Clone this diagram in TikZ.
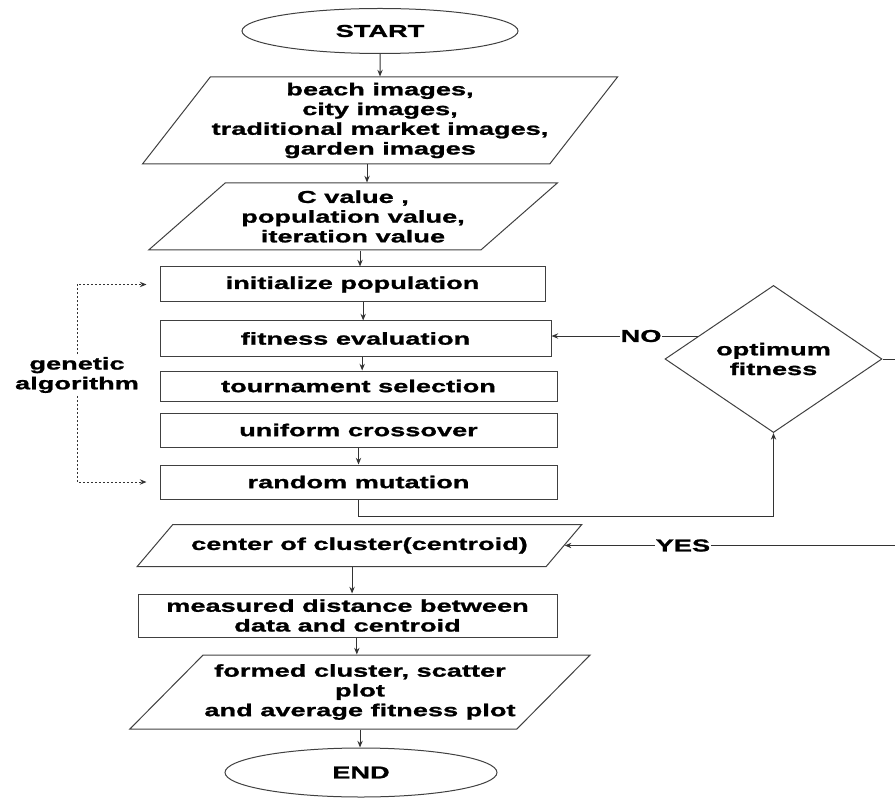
\documentclass[tikz,border=0pt]{standalone}
\usepackage{fontspec}
\setmainfont[FakeStretch=1.58, BoldFeatures={FakeBold=1.2}]{Liberation Sans}
\usetikzlibrary{arrows.meta}
\usetikzlibrary{shapes.geometric}

\tikzset{
  term/.style={ellipse, draw={rgb, 255:red, 64; green, 64; blue, 64}, line width=0.75pt, inner sep=0pt},
  io/.style={trapezium, trapezium stretches=true, draw={rgb, 255:red, 64; green, 64; blue, 64}, line width=0.75pt, inner sep=1pt, align=center},
  proc/.style={rectangle, draw={rgb, 255:red, 64; green, 64; blue, 64}, line width=0.75pt, inner sep=0pt, align=center},
  decide/.style={diamond, draw={rgb, 255:red, 64; green, 64; blue, 64}, line width=0.75pt, inner sep=0pt, align=center},
  flow/.style={draw={rgb, 255:red, 51; green, 51; blue, 51}, line width=0.75pt, -{Stealth[length=5pt,width=4pt]}},
  gaflow/.style={draw={rgb, 255:red, 51; green, 51; blue, 51}, line width=0.75pt, dash pattern={on 1.5pt off 1.5pt}, -{Stealth[length=5pt,width=4pt]}},
  lbl/.style={fill=white, inner sep=0.5pt}
}

\begin{document}
\begin{tikzpicture}[x=0.75pt,y=0.75pt,yscale=-1,xscale=1, font=\bfseries\fontsize{12.9}{14.8}\selectfont]
\useasboundingbox (0,0) rectangle (895,798);

%Terminator [START]
\node [term, minimum width=207pt, minimum height=33.75pt] (start) at (380,31) {START};
%Data [images]
\node [io, minimum width=319.5pt, minimum height=65.25pt, trapezium left angle=49, trapezium right angle=131] (imgs) at (380,120.5) {beach images,\\ city images,\\traditional market images,\\ garden images};
%Data [parameters]
\node [io, minimum width=307.5pt, minimum height=50.25pt, trapezium left angle=39, trapezium right angle=141] (vals) at (353,216.5) {C value ,\\ population value,\\iteration value};

%Process boxes of the genetic algorithm
\node [proc, minimum width=288.75pt, minimum height=26.25pt] (init) at (352.5,284.5) {initialize population};
\node [proc, minimum width=293.25pt, minimum height=26.25pt] (fit) at (355.5,338.5) {fitness evaluation};
\node [proc, minimum width=297.75pt, minimum height=22.5pt] (tour) at (358.5,386) {tournament selection};
\node [proc, minimum width=297.75pt, minimum height=25.5pt] (cross) at (358.5,430) {uniform crossover};
\node [proc, minimum width=297.75pt, minimum height=25.5pt] (mut) at (358.5,482) {random mutation};

%Decision
\node [decide, minimum width=162.75pt, minimum height=85.5pt] (opt) at (773.5,359) {optimum\\fitness};

%Data [centroid]
\node [io, minimum width=333.75pt, minimum height=31.5pt, trapezium left angle=30, trapezium right angle=150] (cent) at (359.5,545.5) {center of cluster(centroid)};
\node [proc, minimum width=314.25pt, minimum height=32.25pt] (meas) at (347.5,615.5) {measured distance between\\data and centroid};
\node [io, minimum width=345pt, minimum height=55.5pt, trapezium left angle=38.5, trapezium right angle=141.5] (formed) at (360,692) {formed cluster, scatter\\plot\\and average fitness plot};
%Terminator [END]
\node [term, minimum width=204pt, minimum height=36.75pt] (end) at (361,772.5) {END};

% Text Node
\node [align=center, inner sep=2pt] (ga) at (77,375) {genetic\\algorithm};

%Straight Lines
\draw [flow] (start) -- (imgs);
\draw [flow] ([xshift=-9.75pt]imgs.south) -- ([xshift=-9.75pt]imgs.south |- vals.north);
\draw [flow] ([xshift=5.25pt]vals.south) -- ([xshift=5.25pt]vals.south |- init.north);
\draw [flow] ([xshift=8pt]init.south) -- ([xshift=8pt]init.south |- fit.north);
\draw [flow] ([xshift=5pt]fit.south) -- ([xshift=5pt]fit.south |- tour.north);
\draw [flow] (cross) -- (mut);
\draw [flow] (mut.south) -- ++(0,17) -| (opt.south);
\draw [flow] (opt.163.6) -- node [lbl, pos=0.39] {NO} (opt.163.6 -| fit.east);
\draw [flow] (opt.east) -- ++(30,0) |- node [lbl, pos=0.83] {YES} (cent.east);
\draw [flow] ([xshift=-5.6pt]cent.south) -- ([xshift=-5.6pt]cent.south |- meas.north);
\draw [flow] ([xshift=7pt]meas.south) -- ([xshift=7pt]meas.south |- formed.north);
\draw [flow] (formed.south) -- (formed.south |- end.north);

%Dotted Lines
\draw [gaflow] (ga.north) |- ([xshift=-9.75pt]init.west);
\draw [gaflow] (ga.south) |- ([xshift=-9.75pt]mut.west);

\end{tikzpicture}
\end{document}
